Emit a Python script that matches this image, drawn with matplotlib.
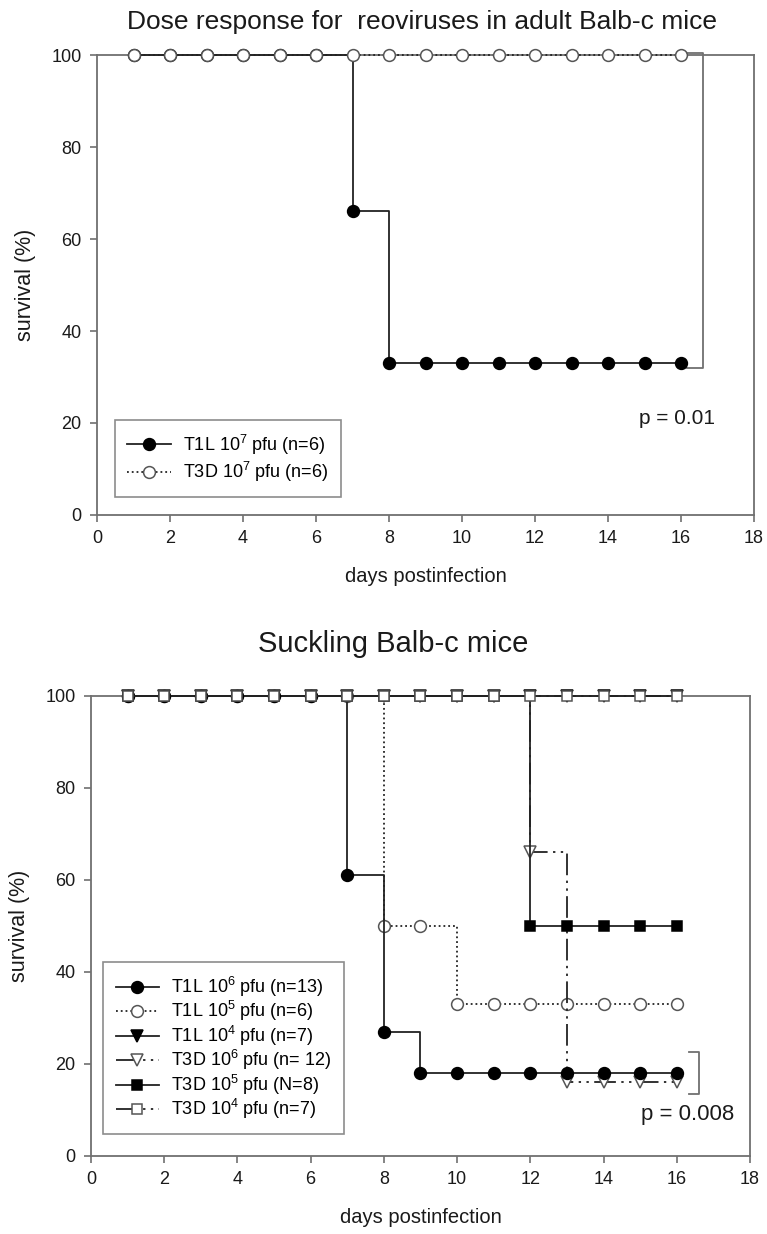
import matplotlib
matplotlib.use("Agg")
import matplotlib.pyplot as plt

plt.rcParams['font.family'] = ['Liberation Sans', 'DejaVu Sans']
plt.rcParams['mathtext.fontset'] = 'custom'
plt.rcParams['mathtext.rm'] = 'Liberation Sans'

# ---------------- data ----------------
days = list(range(1, 17))

# Top panel: adult Balb-c mice
top_t1l_1e7 = [100, 100, 100, 100, 100, 100, 66, 33, 33, 33, 33, 33, 33, 33, 33, 33]
top_t3d_1e7 = [100] * 16

# Bottom panel: suckling Balb-c mice
bot_t1l_1e6 = [100, 100, 100, 100, 100, 100, 61, 27, 18, 18, 18, 18, 18, 18, 18, 18]
bot_t1l_1e5 = [100, 100, 100, 100, 100, 100, 100, 50, 50, 33, 33, 33, 33, 33, 33, 33]
bot_t1l_1e4 = [100] * 16
bot_t3d_1e6 = [100, 100, 100, 100, 100, 100, 100, 100, 100, 100, 100, 66, 16, 16, 16, 16]
bot_t3d_1e5 = [100, 100, 100, 100, 100, 100, 100, 100, 100, 100, 100, 50, 50, 50, 50, 50]
bot_t3d_1e4 = [100] * 16

top_labels = ['T1L 10$^{\\mathregular{7}}$ pfu (n=6)',
              'T3D 10$^{\\mathregular{7}}$ pfu (n=6)']
bot_labels = ['T1L 10$^{\\mathregular{6}}$ pfu (n=13)',
              'T1L 10$^{\\mathregular{5}}$ pfu (n=6)',
              'T1L 10$^{\\mathregular{4}}$ pfu (n=7)',
              'T3D 10$^{\\mathregular{6}}$ pfu (n= 12)',
              'T3D 10$^{\\mathregular{5}}$ pfu (N=8)',
              'T3D 10$^{\\mathregular{4}}$ pfu (n=7)']

top_title = 'Dose response for  reoviruses in adult Balb-c mice'
bot_title = 'Suckling Balb-c mice'
xticks = [0, 2, 4, 6, 8, 10, 12, 14, 16, 18]
yticks = [0, 20, 40, 60, 80, 100]
p_top = 'p = 0.01'
p_bot = 'p = 0.008'

# ---------------- style ----------------
LINE = '#222222'
AX = '#707070'
TXT = '#1a1a1a'
DDOT = (0, (12, 3, 1.3, 3, 1.3, 3))

fig = plt.figure(figsize=(7.67, 12.34), dpi=100)
ax1 = fig.add_axes([97 / 767, 1 - 515 / 1234, 657 / 767, 460 / 1234])
ax2 = fig.add_axes([91 / 767, 1 - 1156 / 1234, 659 / 767, 460 / 1234])


def style_axes(ax, title, pad, tsize, tx):
    ax.set_xlim(0, 18)
    ax.set_ylim(0, 100)
    ax.set_xticks(xticks)
    ax.set_yticks(yticks)
    for s in ax.spines.values():
        s.set_color(AX)
        s.set_linewidth(1.3)
    ax.tick_params(axis='both', direction='out', length=5, width=1.2,
                   color=AX, labelsize=13, labelcolor=TXT, pad=6)
    ax.set_xlabel('days postinfection', fontsize=14.5, color=TXT, labelpad=14)
    ax.set_ylabel('survival (%)', fontsize=15.5, color=TXT, labelpad=11)
    t = ax.set_title(title, fontsize=tsize, color=TXT, pad=pad)
    t.set_x(tx)


def series(ax, y, marker, filled, ls, label, ms=8.5, z=3):
    ax.plot(days, y, drawstyle='steps-post', color=LINE, lw=1.3, ls=ls,
            marker=marker, markersize=ms,
            markerfacecolor='black' if filled else 'white',
            markeredgecolor='black' if filled else '#555555',
            markeredgewidth=1.1, label=label, zorder=z, clip_on=False)


def legend(ax, anchor, spacing):
    lg = ax.legend(loc='lower left', bbox_to_anchor=anchor, fontsize=13,
                   frameon=True, fancybox=False, edgecolor=AX, handlelength=2.4,
                   handletextpad=0.7, borderpad=0.7, labelspacing=spacing,
                   borderaxespad=0)
    lg.get_frame().set_linewidth(1.2)


# ---- top panel ----
series(ax1, top_t1l_1e7, 'o', True, '-', top_labels[0], z=3)
series(ax1, top_t3d_1e7, 'o', False, ':', top_labels[1], z=4)
style_axes(ax1, top_title, 19, 19, 0.495)
ax1.plot([16.17, 16.6, 16.6, 16.17], [100.5, 100.5, 32, 32], color=AX, lw=1.3,
         clip_on=False, zorder=2)
ax1.text(15.9, 21, p_top, fontsize=15, color=TXT, ha='center', va='center')
legend(ax1, (0.027, 0.039), 0.2)

# ---- bottom panel ----
series(ax2, bot_t1l_1e6, 'o', True, '-', bot_labels[0], z=5)
series(ax2, bot_t1l_1e5, 'o', False, ':', bot_labels[1], z=4)
series(ax2, bot_t1l_1e4, 'v', True, '-', bot_labels[2], z=3)
series(ax2, bot_t3d_1e6, 'v', False, DDOT, bot_labels[3], ms=8, z=4)
series(ax2, bot_t3d_1e5, 's', True, '-', bot_labels[4], ms=7.5, z=4)
series(ax2, bot_t3d_1e4, 's', False, DDOT, bot_labels[5], ms=7.5, z=6)
style_axes(ax2, bot_title, 32, 21, 0.458)
ax2.plot([16.33, 16.6, 16.6, 16.33], [22.7, 22.7, 13.5, 13.5], color=AX, lw=1.3,
         clip_on=False, zorder=2)
ax2.text(16.3, 9, p_bot, fontsize=16, color=TXT, ha='center', va='center')
legend(ax2, (0.018, 0.048), 0.02)

fig.savefig('out.png', dpi=100)
